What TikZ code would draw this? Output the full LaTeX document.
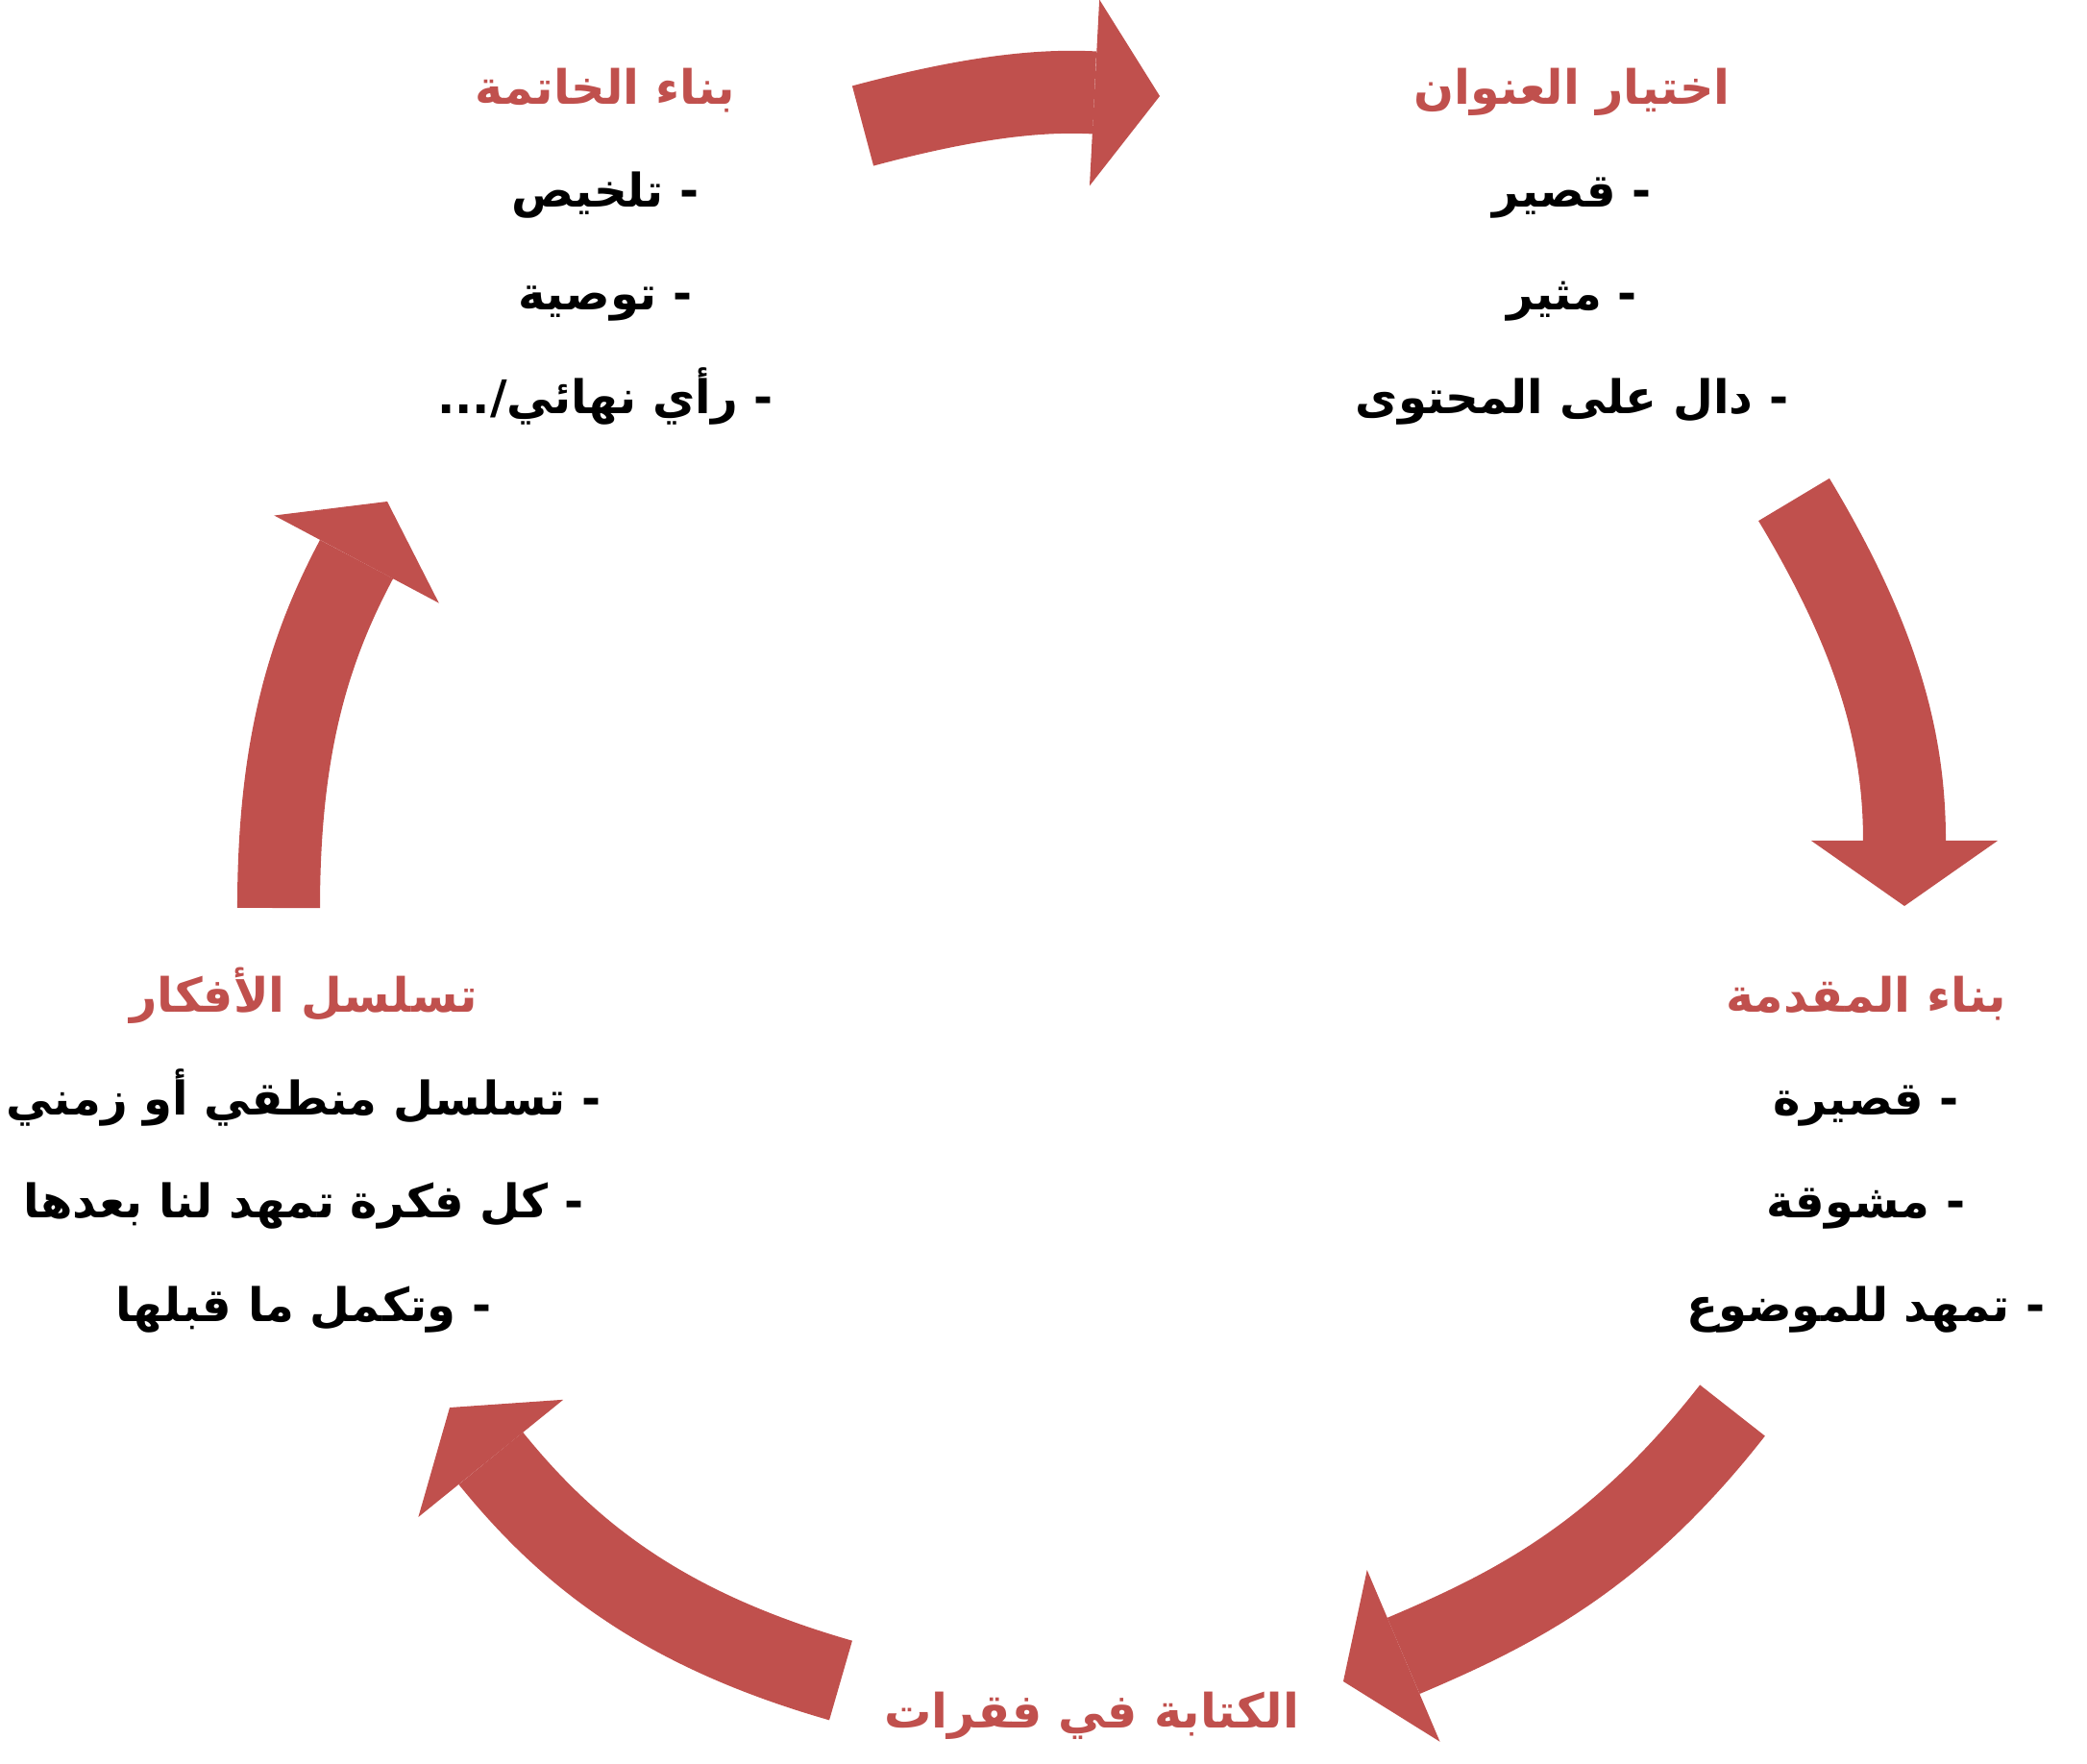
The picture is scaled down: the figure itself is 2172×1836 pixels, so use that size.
\documentclass[tikz,border=0pt]{standalone}
\usepackage{fontspec}
\usetikzlibrary{arrows.meta}
\newfontfamily\arabicfont[Script=Arabic]{DejaVu Sans}
\TeXXeTstate=1
\definecolor{cyclered}{HTML}{C0504D}
\newcommand{\Stage}[6]{
	\node[stagetitle] (#1) at (#2) {#3};
	\node[stageitem] (#1-a) at (#2) [yshift=-1.07cm] {#4};
	\node[stageitem] (#1-b) at (#2) [yshift=-2.14cm] {#5};
	\node[stageitem] (#1-c) at (#2) [yshift=-3.22cm] {#6};
}

\begin{document}
\begin{tikzpicture}[x=0.01cm, y=-0.01cm,
	stagetitle/.style={anchor=base, inner sep=0pt, text=cyclered, font=\arabicfont\bfseries\fontsize{14}{17}\selectfont},
	stageitem/.style={anchor=base, inner sep=0pt, font=\arabicfont\bfseries\fontsize{13.7}{16}\selectfont},
	cyclearrow/.style={draw=cyclered, line width=0.86cm, -{Triangle[width=1.94cm, length=0.68cm, line width=0pt]}}]
	\useasboundingbox (0,0) rectangle (2172,1836);

	\Stage{title}{1636,108}{\beginR اختيار العنوان\endR}{\beginR - قصير\endR}{\beginR - مثير\endR}{\beginR - دال على المحتوى\endR}
	\Stage{intro}{1942,1053}{\beginR بناء المقدمة\endR}{\beginR - قصيرة\endR}{\beginR - مشوقة\endR}{\beginR - تمهد للموضوع\endR}
	\node[stagetitle] (body) at (1136,1798) {\beginR الكتابة في فقرات\endR};
	\Stage{ideas}{316,1053}{\beginR تسلسل الأفكار\endR}{\beginR - تسلسل منطقي أو زمني\endR}{\beginR - كل فكرة تمهد لنا بعدها\endR}{\beginR - وتكمل ما قبلها\endR}
	\Stage{end}{630,108}{\beginR بناء الخاتمة\endR}{\beginR - تلخيص\endR}{\beginR - توصية\endR}{\beginR - رأي نهائي/...\endR}

	% arrows between the stages
	\coordinate (a1) at (898,131);
	\coordinate (b1) at (1207,100);
	\coordinate (a2) at (1867,520);
	\coordinate (b2) at (1982,943);
	\coordinate (a3) at (1803,1468);
	\coordinate (b3) at (1398,1750);
	\coordinate (a4) at (875,1749);
	\coordinate (b4) at (468,1465);
	\coordinate (a5) at (290,945);
	\coordinate (b5) at (403,522);

	\draw[cyclearrow] (a1) to[out=15, in=177] (b1);
	\draw[cyclearrow] (a2) to[out=-59, in=90] (b2);
	\draw[cyclearrow] (a3) to[out=232, in=23] (b3);
	\draw[cyclearrow] (a4) to[out=164, in=-51] (b4);
	\draw[cyclearrow] (a5) to[out=90, in=-118] (b5);
\end{tikzpicture}
\end{document}
